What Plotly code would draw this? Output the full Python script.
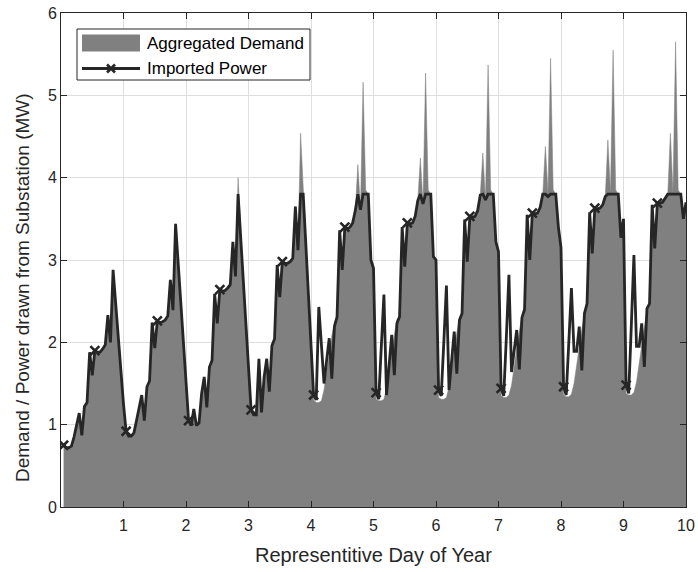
import numpy as np
import plotly.graph_objects as go

# Hourly values (MW), one row per representative day (24 hours each)
demand_mw = [
    # day 1
    0.75, 0.72, 0.72, 0.74, 0.85, 1.00, 1.14, 0.87, 1.22, 1.27, 1.88, 1.60,
    1.90, 1.88, 1.88, 1.92, 1.97, 2.33, 2.00, 2.88, 2.45, 2.05, 1.65, 1.25,
    # day 2
    0.92, 0.86, 0.86, 0.90, 1.05, 1.22, 1.36, 1.05, 1.46, 1.53, 2.24, 1.93,
    2.26, 2.24, 2.25, 2.27, 2.32, 2.76, 2.39, 3.44, 2.96, 2.48, 2.00, 1.52,
    # day 3
    1.05, 0.99, 1.19, 0.99, 1.02, 1.38, 1.58, 1.21, 1.70, 1.78, 2.59, 2.23,
    2.64, 2.62, 2.63, 2.66, 2.70, 3.22, 2.80, 4.00, 3.28, 2.75, 2.23, 1.70,
    # day 4
    1.18, 1.12, 1.12, 1.80, 1.15, 1.58, 1.80, 1.40, 1.96, 2.04, 2.94, 2.55,
    2.98, 2.96, 2.96, 2.98, 3.02, 3.65, 3.12, 4.54, 3.90, 3.20, 2.58, 1.96,
    # day 5
    1.30, 1.27, 1.27, 1.29, 1.42, 1.65, 1.88, 2.08, 2.25, 2.31, 3.36, 2.88,
    3.40, 3.38, 3.40, 3.45, 3.60, 4.16, 3.61, 5.16, 3.85, 3.80, 3.00, 2.90,
    # day 6
    1.31, 1.29, 1.29, 1.31, 1.44, 1.68, 1.90, 2.10, 2.28, 2.31, 3.40, 2.92,
    3.45, 3.44, 3.45, 3.53, 3.72, 4.24, 3.68, 5.27, 3.85, 3.80, 3.04, 3.00,
    # day 7
    1.33, 1.31, 1.31, 1.33, 1.46, 1.70, 1.92, 2.12, 2.30, 2.35, 3.49, 2.98,
    3.53, 3.52, 3.53, 3.60, 3.79, 4.30, 3.73, 5.37, 3.85, 3.80, 3.22, 3.10,
    # day 8
    1.35, 1.33, 1.33, 1.36, 1.48, 1.72, 1.94, 2.14, 2.32, 2.40, 3.55, 3.00,
    3.57, 3.56, 3.57, 3.64, 3.80, 4.38, 3.82, 5.45, 3.85, 3.80, 3.40, 3.15,
    # day 9
    1.36, 1.34, 1.34, 1.37, 1.50, 1.74, 1.96, 2.16, 2.35, 2.47, 3.58, 3.08,
    3.63, 3.62, 3.63, 3.67, 3.77, 4.46, 3.82, 5.55, 3.85, 3.80, 3.27, 3.50,
    # day 10
    1.38, 1.36, 1.36, 1.39, 1.52, 1.76, 1.98, 2.18, 2.38, 2.47, 3.67, 3.14,
    3.69, 3.69, 3.70, 3.75, 3.80, 4.54, 3.82, 5.65, 3.85, 3.80, 3.50, 3.70,
]

imported_mw = [
    # day 1
    0.75, 0.72, 0.72, 0.74, 0.85, 1.00, 1.14, 0.87, 1.22, 1.27, 1.88, 1.60,
    1.90, 1.88, 1.88, 1.92, 1.97, 2.33, 2.00, 2.88, 2.45, 2.05, 1.65, 1.25,
    # day 2
    0.92, 0.86, 0.86, 0.90, 1.05, 1.22, 1.36, 1.05, 1.46, 1.53, 2.24, 1.93,
    2.26, 2.24, 2.25, 2.27, 2.32, 2.76, 2.39, 3.44, 2.96, 2.48, 2.00, 1.52,
    # day 3
    1.05, 0.99, 1.19, 0.99, 1.02, 1.38, 1.58, 1.21, 1.70, 1.78, 2.59, 2.23,
    2.64, 2.62, 2.63, 2.66, 2.70, 3.22, 2.80, 3.80, 3.28, 2.75, 2.23, 1.70,
    # day 4
    1.18, 1.12, 1.12, 1.80, 1.15, 1.58, 1.80, 1.40, 1.96, 2.04, 2.94, 2.55,
    2.98, 2.96, 2.96, 2.98, 3.02, 3.65, 3.12, 3.80, 3.80, 3.20, 2.58, 1.96,
    # day 5
    1.36, 1.30, 2.43, 1.97, 1.50, 1.78, 2.05, 1.56, 2.19, 2.31, 3.36, 2.88,
    3.40, 3.38, 3.40, 3.45, 3.60, 3.80, 3.61, 3.80, 3.80, 3.80, 3.00, 2.90,
    # day 6
    1.39, 1.31, 1.95, 2.58, 1.36, 1.72, 2.09, 1.60, 2.23, 2.31, 3.40, 2.92,
    3.45, 3.44, 3.45, 3.53, 3.72, 3.80, 3.68, 3.80, 3.80, 3.80, 3.04, 3.00,
    # day 7
    1.42, 1.35, 2.00, 2.69, 1.42, 1.75, 2.13, 1.62, 2.27, 2.35, 3.49, 2.98,
    3.53, 3.52, 3.53, 3.60, 3.79, 3.80, 3.73, 3.80, 3.80, 3.80, 3.22, 3.10,
    # day 8
    1.44, 1.35, 2.05, 2.82, 1.64, 1.90, 2.15, 1.67, 2.30, 2.40, 3.55, 3.00,
    3.57, 3.56, 3.57, 3.64, 3.80, 3.80, 3.77, 3.80, 3.80, 3.80, 3.40, 3.15,
    # day 9
    1.46, 1.36, 2.00, 2.66, 1.89, 1.89, 2.19, 1.66, 2.35, 2.47, 3.58, 3.08,
    3.63, 3.62, 3.63, 3.67, 3.77, 3.80, 3.80, 3.80, 3.80, 3.80, 3.27, 3.50,
    # day 10
    1.48, 1.38, 2.20, 3.06, 1.95, 1.95, 2.23, 1.70, 2.41, 2.47, 3.67, 3.14,
    3.69, 3.69, 3.70, 3.75, 3.80, 3.80, 3.80, 3.80, 3.80, 3.80, 3.50, 3.70,
]

x_ticks = [1, 2, 3, 4, 5, 6, 7, 8, 9, 10]
y_ticks = [0, 1, 2, 3, 4, 5, 6]
series_names = ["Aggregated Demand", "Imported Power"]
x_title = "Representitive Day of Year"
y_title = "Demand / Power drawn from Substation (MW)"
marker_step = 12  # one marker every half day

hours = np.arange(1, len(demand_mw) + 1)
day = hours / 24.0
imported = np.array(imported_mw)

INK = "#262626"
GRID = "#dedede"
AREA = "#808080"
FONT = "Liberation Sans, Arial, Helvetica, sans-serif"
LINE_W = 2.8

fig = go.Figure()

fig.add_trace(go.Scatter(
    x=day, y=demand_mw, mode="lines", fill="tozeroy",
    fillcolor=AREA, line=dict(color=AREA, width=0.5),
    name=series_names[0], hoverinfo="skip", showlegend=False,
))

fig.add_trace(go.Scatter(
    x=day, y=imported, mode="lines", name=series_names[1],
    line=dict(color=INK, width=LINE_W), showlegend=False,
))

fig.add_trace(go.Scatter(
    x=day[::marker_step], y=imported[::marker_step], mode="markers",
    marker=dict(symbol="x-thin", size=9, color=INK, line=dict(color=INK, width=2.6)),
    showlegend=False, hoverinfo="skip",
))

axis_common = dict(
    showline=True, linecolor=INK, linewidth=1, mirror="allticks",
    ticks="inside", ticklen=6, tickcolor=INK, tickwidth=1,
    showgrid=True, gridcolor=GRID, gridwidth=1, zeroline=False,
    tickfont=dict(family=FONT, size=16, color=INK), automargin=False,
)

# legend box drawn in paper space (plot area is 625 x 494 px)
PW, PH = 625.0, 494.0
def px_x(v):
    return v / PW
def px_y(v):
    return 1.0 - v / PH

shapes = [
    dict(type="rect", xref="paper", yref="paper",
         x0=px_x(16), x1=px_x(249), y0=px_y(67), y1=px_y(16),
         line=dict(color=INK, width=1), fillcolor="white", layer="above"),
    dict(type="rect", xref="paper", yref="paper",
         x0=px_x(21), x1=px_x(79), y0=px_y(38.5), y1=px_y(21.5),
         line=dict(width=0), fillcolor=AREA, layer="above"),
    dict(type="line", xref="paper", yref="paper",
         x0=px_x(21), x1=px_x(79), y0=px_y(55.5), y1=px_y(55.5),
         line=dict(color=INK, width=LINE_W), layer="above"),
]
# the x-shaped marker on the legend line
for dx, dy in [(1, 1), (1, -1)]:
    shapes.append(dict(
        type="line", xref="paper", yref="paper",
        x0=px_x(50 - 4 * dx), x1=px_x(50 + 4 * dx),
        y0=px_y(55.5 - 4 * dy), y1=px_y(55.5 + 4 * dy),
        line=dict(color=INK, width=2.6), layer="above",
    ))

annotations = [
    dict(text=series_names[0], xref="paper", yref="paper",
         x=px_x(84), y=px_y(30), xanchor="left", yanchor="middle",
         showarrow=False, font=dict(family=FONT, size=17, color="black")),
    dict(text=series_names[1], xref="paper", yref="paper",
         x=px_x(84), y=px_y(55.5), xanchor="left", yanchor="middle",
         showarrow=False, font=dict(family=FONT, size=17, color="black")),
    dict(text=x_title, xref="paper", yref="paper",
         x=0.5, y=px_y(542), xanchor="center", yanchor="middle",
         showarrow=False, font=dict(family=FONT, size=20, color=INK)),
    dict(text=y_title, xref="paper", yref="paper", textangle=-90,
         x=px_x(-39), y=px_y(275), xanchor="center", yanchor="middle",
         showarrow=False, font=dict(family=FONT, size=19, color=INK)),
]

fig.update_layout(
    width=698, height=572,
    margin=dict(l=61, r=12, t=13, b=65),
    paper_bgcolor="white", plot_bgcolor="white",
    font=dict(family=FONT, color=INK),
    xaxis=dict(range=[0, 10], tickvals=x_ticks, ticklabelstandoff=4, **axis_common),
    yaxis=dict(range=[0, 6], tickvals=y_ticks, **axis_common),
    shapes=shapes,
    annotations=annotations,
    showlegend=False,
)

fig.write_html("out.html")
